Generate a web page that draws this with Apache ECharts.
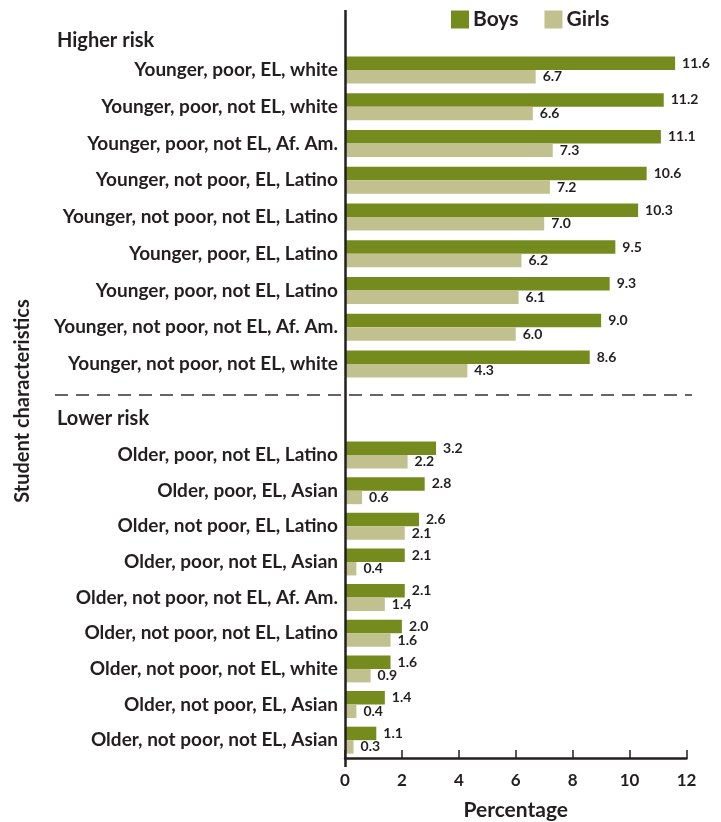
<!DOCTYPE html>
<html>
<head>
<meta charset="utf-8">
<script src="https://cdn.jsdelivr.net/npm/echarts@6/dist/echarts.min.js"></script>
<style>
  html, body { margin: 0; padding: 0; background: #fff; }
  #chart { width: 721px; height: 822px; }
</style>
</head>
<body>
<div id="chart"></div>
<script>
const higherCats = [
  'Younger, poor, EL, white',
  'Younger, poor, not EL, white',
  'Younger, poor, not EL, Af. Am.',
  'Younger, not poor, EL, Latino',
  'Younger, not poor, not EL, Latino',
  'Younger, poor, EL, Latino',
  'Younger, poor, not EL, Latino',
  'Younger, not poor, not EL, Af. Am.',
  'Younger, not poor, not EL, white'
];
const higherBoys = [11.6, 11.2, 11.1, 10.6, 10.3, 9.5, 9.3, 9.0, 8.6];
const higherGirls = [6.7, 6.6, 7.3, 7.2, 7.0, 6.2, 6.1, 6.0, 4.3];

const lowerCats = [
  'Older, poor, not EL, Latino',
  'Older, poor, EL, Asian',
  'Older, not poor, EL, Latino',
  'Older, poor, not EL, Asian',
  'Older, not poor, not EL, Af. Am.',
  'Older, not poor, not EL, Latino',
  'Older, not poor, not EL, white',
  'Older, not poor, EL, Asian',
  'Older, not poor, not EL, Asian'
];
const lowerBoys = [3.2, 2.8, 2.6, 2.1, 2.1, 2.0, 1.6, 1.4, 1.1];
const lowerGirls = [2.2, 0.6, 2.1, 0.4, 1.4, 1.6, 0.9, 0.4, 0.3];

const xTicks = [0, 2, 4, 6, 8, 10, 12];

const FONT = 'Lato';
const BOYS = '#768b1e';
const GIRLS = '#c1c08f';
const INK = '#231f20';

const chart = echarts.init(document.getElementById('chart'));

function catAxis(gridIndex, data) {
  return {
    type: 'category',
    gridIndex: gridIndex,
    data: data,
    inverse: true,
    axisLine: { show: false },
    axisTick: { show: false },
    axisLabel: {
      margin: 7,
      color: INK,
      fontFamily: FONT,
      fontWeight: 'bold',
      fontSize: 19
    }
  };
}

function valAxis(gridIndex, showLabels) {
  return {
    type: 'value',
    gridIndex: gridIndex,
    min: xTicks[0],
    max: xTicks[xTicks.length - 1],
    interval: 2,
    splitLine: { show: false },
    axisLine: { show: showLabels, lineStyle: { color: INK, width: 2.5 } },
    axisTick: { show: showLabels, inside: true, length: 8, lineStyle: { color: INK, width: 1.5 } },
    axisLabel: {
      show: showLabels,
      margin: 14,
      color: INK,
      fontFamily: FONT,
      fontWeight: 'bold',
      fontSize: 17
    },
    name: showLabels ? 'Percentage' : '',
    nameLocation: 'middle',
    nameGap: 42,
    nameTextStyle: { color: INK, fontFamily: FONT, fontWeight: 'bold', fontSize: 21 }
  };
}

function barSeries(name, color, xi, data) {
  return {
    name: name,
    type: 'bar',
    xAxisIndex: xi,
    yAxisIndex: xi,
    data: data,
    barWidth: 13.5,
    barGap: '0%',
    itemStyle: { color: color },
    label: {
      show: true,
      position: 'right',
      distance: 7,
      color: INK,
      fontFamily: FONT,
      fontWeight: 'bold',
      fontSize: 14,
      formatter: p => p.value.toFixed(1)
    }
  };
}

const option = {
  animation: false,
  textStyle: { fontFamily: FONT },
  legend: {
    data: ['Boys', 'Girls'],
    left: 446,
    top: 4,
    icon: 'rect',
    itemWidth: 18,
    itemHeight: 18,
    itemGap: 26,
    textStyle: { color: INK, fontFamily: FONT, fontWeight: 'bold', fontSize: 21, padding: [0, 0, 0, -1] }
  },
  grid: [
    { left: 345, right: 34.5, top: 51.6, height: 330.8 },
    { left: 345, right: 34.5, top: 437.2, height: 329.2 }
  ],
  xAxis: [valAxis(0, false), valAxis(1, true)],
  yAxis: [catAxis(0, higherCats), catAxis(1, lowerCats)],
  series: [
    barSeries('Boys', BOYS, 0, higherBoys),
    barSeries('Girls', GIRLS, 0, higherGirls),
    barSeries('Boys', BOYS, 1, lowerBoys),
    barSeries('Girls', GIRLS, 1, lowerGirls)
  ],
  graphic: [
    {
      type: 'line',
      shape: { x1: 345.5, y1: 10, x2: 345.5, y2: 767 },
      style: { stroke: INK, lineWidth: 2.5 },
      z: 10
    },
    {
      type: 'line',
      shape: { x1: 55, y1: 395, x2: 692, y2: 395 },
      style: { stroke: '#333', lineWidth: 1.5, lineDash: [13, 8] }
    },
    {
      type: 'text',
      left: 57,
      top: 31,
      style: { text: 'Higher risk', fill: INK, font: 'bold 20px ' + FONT }
    },
    {
      type: 'text',
      left: 57,
      top: 409,
      style: { text: 'Lower risk', fill: INK, font: 'bold 20px ' + FONT }
    },
    {
      type: 'text',
      x: 23,
      y: 401,
      rotation: Math.PI / 2,
      style: {
        text: 'Student characteristics',
        fill: INK,
        font: 'bold 20px ' + FONT,
        align: 'center',
        verticalAlign: 'middle'
      }
    }
  ]
};

chart.setOption(option);
</script>
</body>
</html>
